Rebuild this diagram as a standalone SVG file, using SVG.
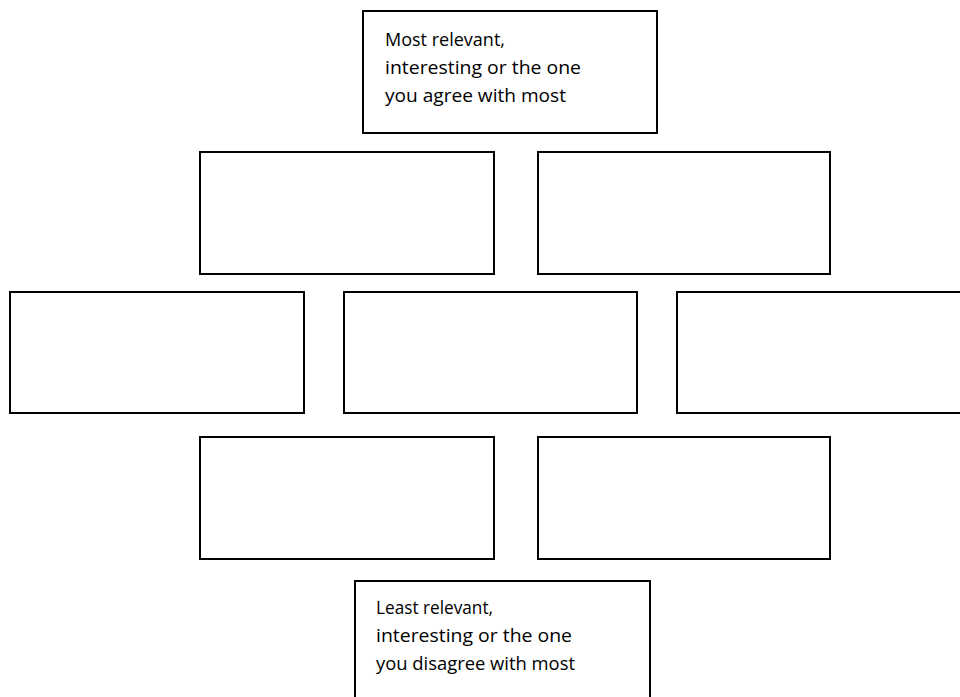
<svg xmlns="http://www.w3.org/2000/svg" width="960" height="697" viewBox="0 0 960 697">
<style>
.box{fill:#fff;stroke:#000;stroke-width:2}
.t{font-family:"Open Sans","Noto Sans","Liberation Sans",sans-serif;font-size:18px;fill:#000}
</style>
<rect width="960" height="697" fill="#fff"/>
<g id="top"><rect class="box" x="363" y="11" width="294" height="122"/>
<text class="t" x="385" y="46" textLength="120" lengthAdjust="spacingAndGlyphs">Most relevant,</text>
<text class="t" x="385" y="74" textLength="196" lengthAdjust="spacingAndGlyphs">interesting or the one</text>
<text class="t" x="385" y="102" textLength="181" lengthAdjust="spacingAndGlyphs">you agree with most</text></g>
<g id="r1a"><rect class="box" x="200" y="152" width="294" height="122"/></g>
<g id="r1b"><rect class="box" x="538" y="152" width="292" height="122"/></g>
<g id="r2a"><rect class="box" x="10" y="292" width="294" height="121"/></g>
<g id="r2b"><rect class="box" x="344" y="292" width="293" height="121"/></g>
<g id="r2c"><rect class="box" x="677" y="292" width="300" height="121"/></g>
<g id="r3a"><rect class="box" x="200" y="437" width="294" height="122"/></g>
<g id="r3b"><rect class="box" x="538" y="437" width="292" height="122"/></g>
<g id="bottom"><rect class="box" x="355" y="581" width="295" height="130"/>
<text class="t" x="376" y="614" textLength="117" lengthAdjust="spacingAndGlyphs">Least relevant,</text>
<text class="t" x="376" y="642" textLength="196" lengthAdjust="spacingAndGlyphs">interesting or the one</text>
<text class="t" x="376" y="670" textLength="199" lengthAdjust="spacingAndGlyphs">you disagree with most</text></g>
<g id="connectors"></g>
</svg>
